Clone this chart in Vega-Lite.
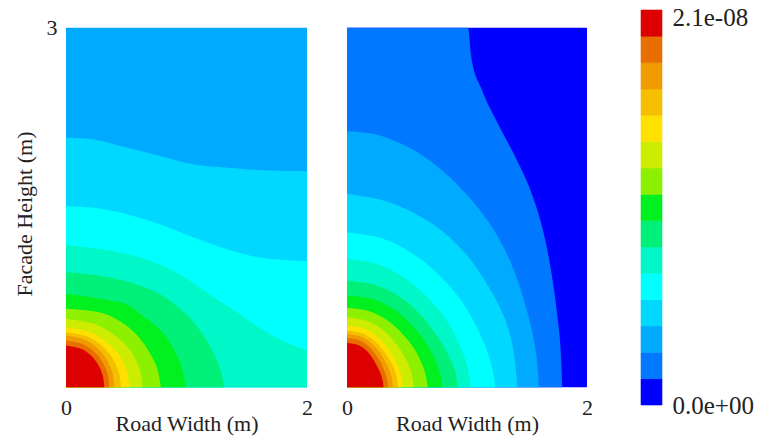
{
  "$schema": "https://vega.github.io/schema/vega-lite/v6.json",
  "padding": {"left": 13, "top": 5, "right": 5, "bottom": 5},
  "config": {
    "view": {"stroke": null},
    "font": "Liberation Serif",
    "axis": {"domain": false, "ticks": false, "tickSize": 0, "grid": false, "labelFont": "Liberation Serif", "labelFontSize": 22, "labelColor": "#222", "titleFont": "Liberation Serif", "titleFontSize": 22, "titleFontWeight": "normal", "titleColor": "#222"}
  },
  "bounds": "flush",
  "center": true,
  "spacing": 40,
  "resolve": {"scale": {"color": "shared"}},
  "datasets": {
    "bar": [
      {"lo":0,"hi":1.4e-9,"value":7e-10},{"lo":1.4e-9,"hi":2.8e-9,"value":2.1e-9},{"lo":2.8e-9,"hi":4.2e-9,"value":3.5e-9},{"lo":4.2e-9,"hi":5.6e-9,"value":4.9e-9},{"lo":5.6e-9,"hi":7e-9,"value":6.3e-9},{"lo":7e-9,"hi":8.4e-9,"value":7.7e-9},{"lo":8.4e-9,"hi":9.8e-9,"value":9.1e-9},{"lo":9.8e-9,"hi":1.12e-8,"value":1.05e-8},{"lo":1.12e-8,"hi":1.26e-8,"value":1.19e-8},{"lo":1.26e-8,"hi":1.4e-8,"value":1.33e-8},{"lo":1.4e-8,"hi":1.54e-8,"value":1.47e-8},{"lo":1.54e-8,"hi":1.68e-8,"value":1.61e-8},{"lo":1.68e-8,"hi":1.82e-8,"value":1.75e-8},{"lo":1.82e-8,"hi":1.96e-8,"value":1.89e-8},{"lo":1.96e-8,"hi":2.1e-8,"value":2.03e-8}
    ],
    "contours": [
      {"panel":"A","value":3.5e-9,"x":0,"y":3},{"panel":"A","value":3.5e-9,"x":2,"y":3},
      {"panel":"A","value":4.9e-9,"x":0,"y":2.081},{"panel":"A","value":4.9e-9,"x":0.235,"y":2.067},{"panel":"A","value":4.9e-9,"x":0.512,"y":1.997},{"panel":"A","value":4.9e-9,"x":0.788,"y":1.928},{"panel":"A","value":4.9e-9,"x":1.065,"y":1.858},{"panel":"A","value":4.9e-9,"x":1.341,"y":1.831},{"panel":"A","value":4.9e-9,"x":1.618,"y":1.811},{"panel":"A","value":4.9e-9,"x":2,"y":1.803},
      {"panel":"A","value":6.3e-9,"x":0,"y":1.511},{"panel":"A","value":6.3e-9,"x":0.235,"y":1.497},{"panel":"A","value":6.3e-9,"x":0.512,"y":1.442},{"panel":"A","value":6.3e-9,"x":0.788,"y":1.358},{"panel":"A","value":6.3e-9,"x":1.065,"y":1.247},{"panel":"A","value":6.3e-9,"x":1.341,"y":1.15},{"panel":"A","value":6.3e-9,"x":1.618,"y":1.081},{"panel":"A","value":6.3e-9,"x":2,"y":1.053},
      {"panel":"A","value":7.7e-9,"x":0,"y":1.19},{"panel":"A","value":7.7e-9,"x":0.235,"y":1.16},{"panel":"A","value":7.7e-9,"x":0.512,"y":1.11},{"panel":"A","value":7.7e-9,"x":0.788,"y":1.02},{"panel":"A","value":7.7e-9,"x":0.98,"y":0.92},{"panel":"A","value":7.7e-9,"x":1.187,"y":0.78},{"panel":"A","value":7.7e-9,"x":1.4,"y":0.64},{"panel":"A","value":7.7e-9,"x":1.602,"y":0.5},{"panel":"A","value":7.7e-9,"x":1.8,"y":0.39},{"panel":"A","value":7.7e-9,"x":2,"y":0.31},
      {"panel":"A","value":9.1e-9,"x":0,"y":0.961},{"panel":"A","value":9.1e-9,"x":0.357,"y":0.919},{"panel":"A","value":9.1e-9,"x":0.772,"y":0.781},{"panel":"A","value":9.1e-9,"x":1.048,"y":0.558},{"panel":"A","value":9.1e-9,"x":1.214,"y":0.308},{"panel":"A","value":9.1e-9,"x":1.29,"y":0.12},{"panel":"A","value":9.1e-9,"x":1.311,"y":0},
      {"panel":"A","value":1.05e-8,"x":0,"y":0.781},{"panel":"A","value":1.05e-8,"x":0.357,"y":0.728},{"panel":"A","value":1.05e-8,"x":0.512,"y":0.69},{"panel":"A","value":1.05e-8,"x":0.633,"y":0.6},{"panel":"A","value":1.05e-8,"x":0.788,"y":0.475},{"panel":"A","value":1.05e-8,"x":0.855,"y":0.39},{"panel":"A","value":1.05e-8,"x":0.927,"y":0.253},{"panel":"A","value":1.05e-8,"x":0.965,"y":0.15},{"panel":"A","value":1.05e-8,"x":0.996,"y":0},
      {"panel":"A","value":1.19e-8,"x":0,"y":0.656},{"panel":"A","value":1.19e-8,"x":0.3,"y":0.62},{"panel":"A","value":1.19e-8,"x":0.495,"y":0.52},{"panel":"A","value":1.19e-8,"x":0.62,"y":0.4},{"panel":"A","value":1.19e-8,"x":0.7,"y":0.28},{"panel":"A","value":1.19e-8,"x":0.76,"y":0.15},{"panel":"A","value":1.19e-8,"x":0.788,"y":0},
      {"panel":"A","value":1.33e-8,"x":0,"y":0.572},{"panel":"A","value":1.33e-8,"x":0.25,"y":0.525},{"panel":"A","value":1.33e-8,"x":0.4,"y":0.44},{"panel":"A","value":1.33e-8,"x":0.5,"y":0.35},{"panel":"A","value":1.33e-8,"x":0.57,"y":0.25},{"panel":"A","value":1.33e-8,"x":0.615,"y":0.14},{"panel":"A","value":1.33e-8,"x":0.636,"y":0},
      {"panel":"A","value":1.47e-8,"x":0,"y":0.503},{"panel":"A","value":1.47e-8,"x":0.2,"y":0.462},{"panel":"A","value":1.47e-8,"x":0.33,"y":0.38},{"panel":"A","value":1.47e-8,"x":0.42,"y":0.3},{"panel":"A","value":1.47e-8,"x":0.48,"y":0.2},{"panel":"A","value":1.47e-8,"x":0.51,"y":0.12},{"panel":"A","value":1.47e-8,"x":0.525,"y":0},
      {"panel":"A","value":1.61e-8,"x":0,"y":0.461},{"panel":"A","value":1.61e-8,"x":0.18,"y":0.424},{"panel":"A","value":1.61e-8,"x":0.29,"y":0.355},{"panel":"A","value":1.61e-8,"x":0.37,"y":0.27},{"panel":"A","value":1.61e-8,"x":0.42,"y":0.178},{"panel":"A","value":1.61e-8,"x":0.445,"y":0.1},{"panel":"A","value":1.61e-8,"x":0.456,"y":0},
      {"panel":"A","value":1.75e-8,"x":0,"y":0.433},{"panel":"A","value":1.75e-8,"x":0.16,"y":0.398},{"panel":"A","value":1.75e-8,"x":0.26,"y":0.33},{"panel":"A","value":1.75e-8,"x":0.33,"y":0.246},{"panel":"A","value":1.75e-8,"x":0.37,"y":0.167},{"panel":"A","value":1.75e-8,"x":0.39,"y":0.1},{"panel":"A","value":1.75e-8,"x":0.401,"y":0},
      {"panel":"A","value":1.89e-8,"x":0,"y":0.392},{"panel":"A","value":1.89e-8,"x":0.14,"y":0.361},{"panel":"A","value":1.89e-8,"x":0.23,"y":0.302},{"panel":"A","value":1.89e-8,"x":0.29,"y":0.232},{"panel":"A","value":1.89e-8,"x":0.33,"y":0.157},{"panel":"A","value":1.89e-8,"x":0.35,"y":0.092},{"panel":"A","value":1.89e-8,"x":0.36,"y":0},
      {"panel":"A","value":2.03e-8,"x":0,"y":0.35},{"panel":"A","value":2.03e-8,"x":0.12,"y":0.324},{"panel":"A","value":2.03e-8,"x":0.2,"y":0.272},{"panel":"A","value":2.03e-8,"x":0.25,"y":0.216},{"panel":"A","value":2.03e-8,"x":0.29,"y":0.144},{"panel":"A","value":2.03e-8,"x":0.31,"y":0.078},{"panel":"A","value":2.03e-8,"x":0.318,"y":0},

      {"panel":"B","value":7e-10,"x":0,"y":3},{"panel":"B","value":7e-10,"x":2,"y":3},
      {"panel":"B","value":2.1e-9,"x":0,"y":3},{"panel":"B","value":2.1e-9,"x":1.008,"y":3},{"panel":"B","value":2.1e-9,"x":1.036,"y":2.75},{"panel":"B","value":2.1e-9,"x":1.128,"y":2.47},{"panel":"B","value":2.1e-9,"x":1.262,"y":2.19},{"panel":"B","value":2.1e-9,"x":1.408,"y":1.91},{"panel":"B","value":2.1e-9,"x":1.53,"y":1.64},{"panel":"B","value":2.1e-9,"x":1.62,"y":1.36},{"panel":"B","value":2.1e-9,"x":1.682,"y":1.08},{"panel":"B","value":2.1e-9,"x":1.72,"y":0.85},{"panel":"B","value":2.1e-9,"x":1.757,"y":0.56},{"panel":"B","value":2.1e-9,"x":1.782,"y":0.28},{"panel":"B","value":2.1e-9,"x":1.794,"y":0},
      {"panel":"B","value":3.5e-9,"x":0,"y":2.135},{"panel":"B","value":3.5e-9,"x":0.244,"y":2.108},{"panel":"B","value":3.5e-9,"x":0.522,"y":1.997},{"panel":"B","value":3.5e-9,"x":0.8,"y":1.803},{"panel":"B","value":3.5e-9,"x":1.022,"y":1.581},{"panel":"B","value":3.5e-9,"x":1.194,"y":1.358},{"panel":"B","value":3.5e-9,"x":1.321,"y":1.136},{"panel":"B","value":3.5e-9,"x":1.414,"y":0.914},{"panel":"B","value":3.5e-9,"x":1.521,"y":0.558},{"panel":"B","value":3.5e-9,"x":1.576,"y":0.281},{"panel":"B","value":3.5e-9,"x":1.6,"y":0},
      {"panel":"B","value":4.9e-9,"x":0,"y":1.614},{"panel":"B","value":4.9e-9,"x":0.35,"y":1.544},{"panel":"B","value":4.9e-9,"x":0.711,"y":1.364},{"panel":"B","value":4.9e-9,"x":0.989,"y":1.114},{"panel":"B","value":4.9e-9,"x":1.183,"y":0.836},{"panel":"B","value":4.9e-9,"x":1.322,"y":0.558},{"panel":"B","value":4.9e-9,"x":1.392,"y":0.281},{"panel":"B","value":4.9e-9,"x":1.419,"y":0},
      {"panel":"B","value":6.3e-9,"x":0,"y":1.289},{"panel":"B","value":6.3e-9,"x":0.3,"y":1.24},{"panel":"B","value":6.3e-9,"x":0.6,"y":1.08},{"panel":"B","value":6.3e-9,"x":0.85,"y":0.85},{"panel":"B","value":6.3e-9,"x":1.0,"y":0.65},{"panel":"B","value":6.3e-9,"x":1.12,"y":0.42},{"panel":"B","value":6.3e-9,"x":1.2,"y":0.2},{"panel":"B","value":6.3e-9,"x":1.239,"y":0},
      {"panel":"B","value":7.7e-9,"x":0,"y":1.07},{"panel":"B","value":7.7e-9,"x":0.25,"y":1.03},{"panel":"B","value":7.7e-9,"x":0.5,"y":0.9},{"panel":"B","value":7.7e-9,"x":0.7,"y":0.72},{"panel":"B","value":7.7e-9,"x":0.85,"y":0.53},{"panel":"B","value":7.7e-9,"x":0.95,"y":0.33},{"panel":"B","value":7.7e-9,"x":1.01,"y":0.15},{"panel":"B","value":7.7e-9,"x":1.031,"y":0},
      {"panel":"B","value":9.1e-9,"x":0,"y":0.892},{"panel":"B","value":9.1e-9,"x":0.25,"y":0.85},{"panel":"B","value":9.1e-9,"x":0.45,"y":0.75},{"panel":"B","value":9.1e-9,"x":0.6,"y":0.62},{"panel":"B","value":9.1e-9,"x":0.73,"y":0.46},{"panel":"B","value":9.1e-9,"x":0.83,"y":0.3},{"panel":"B","value":9.1e-9,"x":0.9,"y":0.14},{"panel":"B","value":9.1e-9,"x":0.922,"y":0},
      {"panel":"B","value":1.05e-8,"x":0,"y":0.767},{"panel":"B","value":1.05e-8,"x":0.22,"y":0.735},{"panel":"B","value":1.05e-8,"x":0.4,"y":0.645},{"panel":"B","value":1.05e-8,"x":0.53,"y":0.53},{"panel":"B","value":1.05e-8,"x":0.64,"y":0.4},{"panel":"B","value":1.05e-8,"x":0.72,"y":0.26},{"panel":"B","value":1.05e-8,"x":0.77,"y":0.14},{"panel":"B","value":1.05e-8,"x":0.797,"y":0},
      {"panel":"B","value":1.19e-8,"x":0,"y":0.664},{"panel":"B","value":1.19e-8,"x":0.2,"y":0.632},{"panel":"B","value":1.19e-8,"x":0.35,"y":0.55},{"panel":"B","value":1.19e-8,"x":0.46,"y":0.45},{"panel":"B","value":1.19e-8,"x":0.55,"y":0.34},{"panel":"B","value":1.19e-8,"x":0.61,"y":0.23},{"panel":"B","value":1.19e-8,"x":0.65,"y":0.13},{"panel":"B","value":1.19e-8,"x":0.672,"y":0},
      {"panel":"B","value":1.33e-8,"x":0,"y":0.586},{"panel":"B","value":1.33e-8,"x":0.17,"y":0.555},{"panel":"B","value":1.33e-8,"x":0.3,"y":0.48},{"panel":"B","value":1.33e-8,"x":0.39,"y":0.39},{"panel":"B","value":1.33e-8,"x":0.46,"y":0.29},{"panel":"B","value":1.33e-8,"x":0.51,"y":0.2},{"panel":"B","value":1.33e-8,"x":0.54,"y":0.11},{"panel":"B","value":1.33e-8,"x":0.555,"y":0},
      {"panel":"B","value":1.47e-8,"x":0,"y":0.517},{"panel":"B","value":1.47e-8,"x":0.15,"y":0.488},{"panel":"B","value":1.47e-8,"x":0.25,"y":0.425},{"panel":"B","value":1.47e-8,"x":0.33,"y":0.34},{"panel":"B","value":1.47e-8,"x":0.39,"y":0.25},{"panel":"B","value":1.47e-8,"x":0.43,"y":0.17},{"panel":"B","value":1.47e-8,"x":0.455,"y":0.09},{"panel":"B","value":1.47e-8,"x":0.465,"y":0},
      {"panel":"B","value":1.61e-8,"x":0,"y":0.475},{"panel":"B","value":1.61e-8,"x":0.13,"y":0.45},{"panel":"B","value":1.61e-8,"x":0.23,"y":0.39},{"panel":"B","value":1.61e-8,"x":0.3,"y":0.31},{"panel":"B","value":1.61e-8,"x":0.36,"y":0.225},{"panel":"B","value":1.61e-8,"x":0.395,"y":0.15},{"panel":"B","value":1.61e-8,"x":0.415,"y":0.08},{"panel":"B","value":1.61e-8,"x":0.425,"y":0},
      {"panel":"B","value":1.75e-8,"x":0,"y":0.447},{"panel":"B","value":1.75e-8,"x":0.12,"y":0.423},{"panel":"B","value":1.75e-8,"x":0.2,"y":0.37},{"panel":"B","value":1.75e-8,"x":0.27,"y":0.295},{"panel":"B","value":1.75e-8,"x":0.32,"y":0.215},{"panel":"B","value":1.75e-8,"x":0.355,"y":0.14},{"panel":"B","value":1.75e-8,"x":0.375,"y":0.07},{"panel":"B","value":1.75e-8,"x":0.383,"y":0},
      {"panel":"B","value":1.89e-8,"x":0,"y":0.414},{"panel":"B","value":1.89e-8,"x":0.11,"y":0.39},{"panel":"B","value":1.89e-8,"x":0.18,"y":0.343},{"panel":"B","value":1.89e-8,"x":0.24,"y":0.272},{"panel":"B","value":1.89e-8,"x":0.285,"y":0.2},{"panel":"B","value":1.89e-8,"x":0.315,"y":0.13},{"panel":"B","value":1.89e-8,"x":0.335,"y":0.065},{"panel":"B","value":1.89e-8,"x":0.342,"y":0},
      {"panel":"B","value":2.03e-8,"x":0,"y":0.372},{"panel":"B","value":2.03e-8,"x":0.1,"y":0.35},{"panel":"B","value":2.03e-8,"x":0.16,"y":0.31},{"panel":"B","value":2.03e-8,"x":0.21,"y":0.248},{"panel":"B","value":2.03e-8,"x":0.25,"y":0.18},{"panel":"B","value":2.03e-8,"x":0.28,"y":0.115},{"panel":"B","value":2.03e-8,"x":0.298,"y":0.055},{"panel":"B","value":2.03e-8,"x":0.305,"y":0}
    ]
  },
  "hconcat": [
    {
      "width": 241,
      "height": 360,
      "data": {"name": "contours"},
      "transform": [{"filter": "datum.panel == 'A'"}],
      "mark": {"type": "area", "interpolate": "catmull-rom", "clip": true},
      "encoding": {
        "x": {"field": "x", "type": "quantitative", "scale": {"domain": [0, 2], "nice": false}, "axis": {"values": [0, 2], "labelFlush": false, "title": "Road Width (m)", "labelPadding": 10, "titlePadding": -5}},
        "y": {"field": "y", "type": "quantitative", "stack": null, "scale": {"domain": [0, 3], "nice": false}, "axis": {"values": [3], "title": "Facade Height (m)", "labelPadding": 9, "titlePadding": 10, "titleY": 186}},
        "color": {"field": "value", "type": "quantitative",
          "scale": {"type": "quantize", "domain": [0, 2.1e-8], "nice": false, "zero": true, "range": ["#0000ff","#0078ff","#00aaff","#00d8ff","#00ffff","#00f7c8","#00f07a","#00f020","#8cf000","#ccec00","#ffe100","#f5bf00","#f09c00","#e86e00","#dd0000"]},
          "legend": null}
      }
    },
    {
      "width": 240,
      "height": 360,
      "data": {"name": "contours"},
      "transform": [{"filter": "datum.panel == 'B'"}],
      "encoding": {
        "x": {"field": "x", "type": "quantitative", "scale": {"domain": [0, 2], "nice": false}, "axis": {"values": [0, 2], "labelFlush": false, "title": "Road Width (m)", "labelPadding": 10, "titlePadding": -5}},
        "y": {"field": "y", "type": "quantitative", "stack": null, "scale": {"domain": [0, 3], "nice": false}, "axis": null},
        "color": {"field": "value", "type": "quantitative",
          "scale": {"type": "quantize", "domain": [0, 2.1e-8], "nice": false, "zero": true, "range": ["#0000ff","#0078ff","#00aaff","#00d8ff","#00ffff","#00f7c8","#00f07a","#00f020","#8cf000","#ccec00","#ffe100","#f5bf00","#f09c00","#e86e00","#dd0000"]},
          "legend": null}
      },
      "layer": [
        {"transform": [{"filter": "datum.value < 2.8e-9"}], "mark": {"type": "area", "interpolate": "monotone", "clip": true}},
        {"transform": [{"filter": "datum.value >= 2.8e-9"}], "mark": {"type": "area", "interpolate": "catmull-rom", "clip": true}}
      ]
    },
    {
      "width": 35,
      "height": 395,
      "data": {"name": "bar"},
      "mark": {"type": "rect", "strokeWidth": 0.6},
      "encoding": {
        "x": {"datum": 0.4, "type": "quantitative", "scale": {"domain": [0, 1], "nice": false}, "axis": null},
        "x2": {"datum": 1},
        "y": {"field": "lo", "type": "quantitative", "scale": {"domain": [0, 2.1e-8], "nice": false, "zero": true},
          "axis": {"orient": "right", "values": [0, 2.1e-8], "title": null, "labelPadding": 10, "labelFontSize": 25, "labelBaseline": "middle", "labelOffset": {"condition": {"test": "datum.value > 1e-8", "value": 7}, "value": 0}, "labelExpr": "datum.value > 1e-8 ? '2.1e-08' : '0.0e+00'"}},
        "y2": {"field": "hi"},
        "color": {"field": "value", "type": "quantitative",
          "scale": {"type": "quantize", "domain": [0, 2.1e-8], "nice": false, "zero": true, "range": ["#0000ff","#0078ff","#00aaff","#00d8ff","#00ffff","#00f7c8","#00f07a","#00f020","#8cf000","#ccec00","#ffe100","#f5bf00","#f09c00","#e86e00","#dd0000"]},
          "legend": null},
        "stroke": {"field": "value", "type": "quantitative",
          "scale": {"type": "quantize", "domain": [0, 2.1e-8], "nice": false, "zero": true, "range": ["#0000ff","#0078ff","#00aaff","#00d8ff","#00ffff","#00f7c8","#00f07a","#00f020","#8cf000","#ccec00","#ffe100","#f5bf00","#f09c00","#e86e00","#dd0000"]},
          "legend": null}
      }
    }
  ]
}
